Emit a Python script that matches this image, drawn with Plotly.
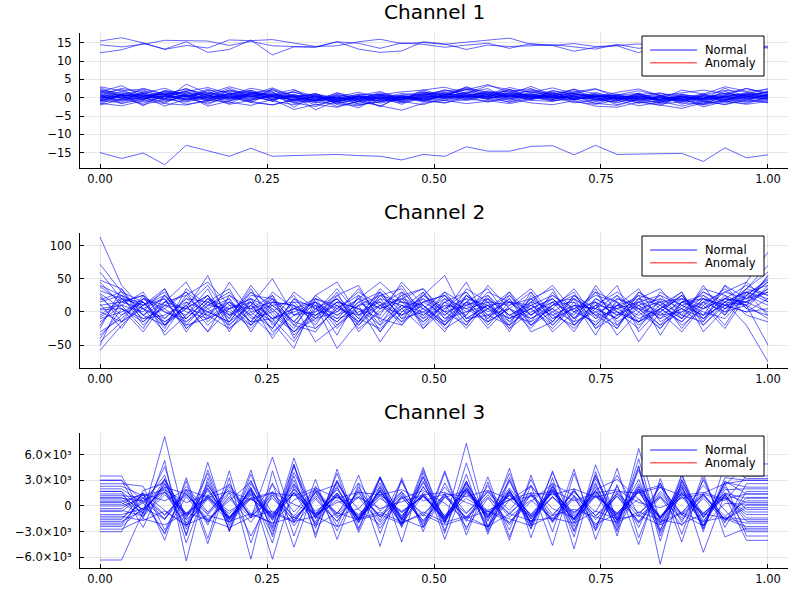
"""Per-channel overview of the sample series (normal vs anomaly)."""

import numpy as np
import plotly.graph_objects as go

# time grid shared by every sample
t = np.linspace(0.0, 1.0, 32)

# Channel 1: three offset-high samples, one offset-low, the rest around zero
ch1_high = [
    [15.5, 16.4, 15.0, 13.2, 14.3, 13.6, 15.8, 15.6, 15.9, 14.9, 14.0, 14.2, 15.3, 16.0, 14.8, 15.1,
     14.6, 15.2, 15.8, 16.3, 14.6, 14.3, 14.8, 14.0, 14.3, 14.7, 14.1, 14.6, 14.2, 14.0, 14.4, 13.8],
    [14.5, 13.9, 14.6, 15.7, 15.6, 15.5, 14.3, 15.4, 14.2, 13.9, 13.8, 15.3, 14.9, 13.5, 15.0, 14.6,
     13.8, 14.4, 14.9, 13.5, 14.8, 14.3, 12.7, 13.8, 14.2, 12.3, 14.9, 14.1, 13.9, 14.3, 13.8, 14.1],
    [12.3, 13.1, 14.9, 13.3, 15.3, 12.4, 13.2, 15.8, 11.7, 13.9, 13.9, 15.3, 13.3, 12.4, 12.8, 15.3,
     14.7, 13.2, 14.4, 14.0, 14.2, 14.5, 13.9, 13.3, 14.6, 13.5, 14.4, 13.3, 14.8, 14.6, 13.9, 13.6],
]
ch1_low = [
    [-15.0, -16.6, -15.1, -18.3, -13.0, -14.6, -16.0, -13.8, -16.0, -15.8, -15.6, -15.5, -15.8, -16.0, -17.0, -15.5,
     -16.0, -13.4, -14.6, -14.6, -13.3, -13.1, -15.6, -13.0, -15.5, -15.5, -15.3, -15.2, -17.4, -13.7, -16.4, -15.6],
]
ch1_core = [
    [2.8, 0.5, 1.5, -0.5, 3.7, 1.2, 0.8, 2.6, 1.5, -0.8, 0.3, -1.2, 0.5, -0.3, 1.2, 0.6,
     1.8, 2.5, 1.6, 1.0, 3.1, 0.8, 1.9, 0.4, 0.7, 1.2, -0.5, 2.1, 1.0, 3.0, 1.8, 2.2],
    [-1.8, 1.0, -0.5, 2.0, 0.8, -0.5, 2.2, 0.0, 2.3, 0.5, -3.3, -0.8, 0.6, -1.5, -0.2, 1.4,
     0.5, 2.9, 0.2, 2.3, 0.1, -0.9, 0.5, -1.6, 0.3, -0.8, -2.1, 0.4, -1.5, 0.2, 1.4, 0.6],
    [1.6, 3.3, 0.4, 1.2, -0.6, 2.1, 1.5, -0.8, 2.5, -1.5, -0.2, -2.4, -0.9, 0.3, -1.8, 0.4,
     2.2, 0.6, 1.3, 1.9, -0.2, 1.5, -0.6, 1.0, -0.3, 0.4, 0.8, -1.8, 0.3, -0.5, 0.9, 1.5],
    [0.4, -1.2, 1.8, 0.6, 2.6, -0.3, 0.9, 1.7, 0.2, 0.8, -1.5, 0.7, -1.8, -1.2, 0.5, -0.8,
     0.6, 1.4, 2.5, -0.4, 1.7, 0.3, 2.4, -0.8, -0.9, 1.3, -1.2, 0.6, -0.6, 1.8, -0.4, 0.8],
    [-0.6, 0.8, -2.2, 1.4, 0.2, 1.9, -0.7, 0.9, -1.0, 2.0, 0.4, -1.0, -2.8, 0.6, -0.7, 1.8,
     -0.3, 0.9, -0.5, 1.4, 0.6, -0.4, 0.9, 0.3, -1.9, -0.3, 0.6, -0.8, 1.2, -1.4, 0.4, -0.2],
    [1.1, -0.3, 0.9, -1.5, 1.3, 0.4, 2.6, 0.3, 1.7, -2.6, 0.9, -0.4, 0.4, -2.5, 0.8, -0.2,
     1.2, 0.2, 1.9, 0.6, 2.0, 1.2, -0.2, 0.6, 0.2, -1.5, 0.1, -0.4, -1.8, 0.6, 2.6, 1.0],
    [0.0, 1.8, 0.3, 0.8, -1.0, 1.2, 0.1, 2.1, -0.6, 0.6, -0.8, 1.4, -0.6, 0.8, -1.3, 1.0,
     0.1, 1.6, 0.8, 1.1, -0.6, 2.0, 0.6, -0.5, 0.8, -0.6, -1.3, 0.2, -0.4, 0.9, 0.0, -0.3],
    [-1.2, -0.4, 1.2, -0.9, 0.5, -1.8, 0.6, -0.4, 0.9, -0.2, 1.1, -1.8, 0.2, -0.8, 0.3, -1.2,
     0.9, -0.5, 1.1, -0.8, 0.9, -0.6, 1.3, -0.2, -1.4, 0.5, -0.9, -0.2, -2.0, -0.8, 1.2, 0.4],
    [0.8, 0.2, -0.7, 1.9, 1.1, 0.7, -1.0, 1.3, 0.4, -1.2, -0.6, 0.2, -1.2, 0.2, -0.9, 0.7,
     1.5, 0.3, 0.5, 2.2, 0.3, 0.9, -0.4, 1.5, -0.1, -1.0, 0.4, -1.2, 0.5, 0.1, -0.8, 1.1],
    [2.1, 1.2, 0.0, 0.3, 1.8, -1.0, 1.3, 0.6, -0.3, 0.3, -2.0, -0.6, 0.9, -0.4, 0.1, 0.2,
     0.3, 1.1, -0.2, 0.4, 1.2, 0.2, 0.3, -1.1, 0.5, -0.2, -0.4, -0.8, 0.1, -0.6, 0.6, -0.5],
    [-0.3, 0.9, 2.1, -0.2, 0.6, 0.9, -1.6, 1.0, 0.8, -0.7, 0.6, -0.9, -0.2, 1.1, -0.3, -0.5,
     0.8, 2.2, 0.0, 0.8, -0.2, 0.6, 1.1, 0.0, -0.7, 0.8, -0.6, 0.5, -1.1, 0.4, 0.2, 1.6],
    [0.6, -0.8, 0.6, 1.0, -0.5, 0.2, 0.8, -1.2, 1.1, 0.1, -0.4, 0.4, -1.0, -0.5, 0.6, -0.9,
     1.0, 0.5, 0.9, -0.1, 0.5, 0.7, -0.3, 0.8, -0.5, 0.9, -1.5, 0.0, -0.3, -0.9, 0.3, 0.2],
    [-0.9, 0.3, -0.4, 0.5, 0.1, 1.5, 0.4, 0.2, -0.8, 1.0, -0.9, 0.1, 0.3, -1.0, -0.5, 0.5,
     -0.6, 0.8, 1.4, 0.3, 1.0, -0.2, 0.8, 0.2, 1.0, -0.4, 0.2, -1.0, 0.7, -0.2, -1.1, 0.0],
    [1.4, 0.6, 0.8, -0.3, 0.9, 0.0, 0.5, 0.9, 0.1, -0.4, 0.2, -0.3, -0.7, 0.4, -0.4, 0.3,
     0.4, -0.1, 0.6, 0.9, 0.7, 0.1, 0.1, 0.5, -0.8, 0.2, -0.3, 0.3, -0.9, 0.5, 0.6, 0.3],
    [0.2, -0.6, 0.1, 0.4, -0.4, 0.6, -0.2, 0.5, 0.3, -0.6, -0.3, -0.5, 0.1, -0.2, 0.2, -0.3,
     0.2, 0.4, -0.1, 0.5, 0.1, 0.4, -0.1, 0.1, -0.3, -0.1, -0.7, 0.1, -0.4, 0.2, -0.2, 0.7],
    [-0.4, 1.4, 0.5, 1.6, 0.3, -0.8, 1.0, -0.2, 0.6, 0.4, -1.1, 0.8, -0.4, -0.1, -1.0, 0.0,
     0.7, -0.2, 0.3, 0.6, -0.4, 1.2, 0.4, -0.3, 0.3, -0.7, 0.5, -0.5, -0.2, 0.7, 1.0, 0.1],
    [0.9, -1.6, -0.3, 0.7, 1.5, 0.8, -0.5, 1.5, -0.5, 0.7, 0.0, -1.4, 0.5, 0.0, -0.6, 1.1,
     -0.2, 1.3, 0.2, -0.3, 0.4, -0.5, 0.7, 0.9, -0.4, 0.6, -0.8, 0.8, 0.3, -0.3, 0.1, -0.7],
    [-0.1, 0.4, 1.0, -0.6, -0.2, 0.3, 1.1, 0.4, 1.3, -1.0, 0.5, -0.2, -0.5, 0.6, 0.4, -0.6,
     0.4, 0.0, 1.6, 0.1, 0.8, 0.0, -0.5, 0.4, 0.1, 0.4, -0.1, -0.6, 0.6, -0.7, 0.8, 0.5],
    [0.5, 0.0, -1.0, 0.2, 0.7, -0.4, 0.2, -0.6, 0.5, 0.0, -0.7, 0.9, -0.3, -0.7, 0.0, 0.8,
     -0.1, 0.6, -0.3, 1.3, 0.2, 0.3, 0.2, -0.6, -0.1, -0.3, 0.3, -0.2, -0.6, 0.3, -0.5, 0.9],
    [1.9, 0.7, 0.2, 1.1, -0.7, 0.5, 0.0, 1.2, -0.1, 0.2, 0.7, -0.8, -0.1, 0.7, -0.2, 0.1,
     1.3, 0.2, 0.4, 0.6, 0.0, 1.6, -0.6, 0.3, 0.6, 0.1, -0.5, 0.4, -0.1, 1.2, 0.4, -0.1],
    [3.0, 1.9, 2.4, 0.9, 1.7, 2.8, 1.1, 2.0, 0.6, 1.5, 0.2, -0.3, 1.0, 0.8, 1.6, 2.1,
     2.9, 1.2, 3.3, 2.2, 1.5, 2.7, 1.2, 2.3, 0.8, 1.9, 0.6, 1.4, 2.1, 1.1, 2.5, 1.3],
    [-1.5, -2.2, -0.8, -1.6, -2.0, -0.6, -1.2, -2.1, -0.4, -3.2, -1.8, -2.6, -1.0, -2.2, -3.4, -1.5,
     -0.7, -1.6, -0.9, -0.3, -1.4, -1.9, -0.8, -2.3, -2.6, -1.2, -2.0, -2.9, -1.4, -0.9, -1.8, -1.0],
    [1.2, 2.3, -0.4, 1.8, 0.3, 2.4, -0.2, 1.3, 2.0, 0.1, 1.2, -1.0, 0.6, 1.7, -0.6, 2.2,
     0.4, 3.0, 1.2, 0.2, 2.4, -0.2, 1.6, 2.5, 0.0, 1.1, -0.5, 0.9, -0.4, 2.6, 0.3, 1.8],
    [-0.8, 0.6, -1.9, -0.4, -1.2, 0.2, -1.8, -0.6, 0.4, -1.4, -2.4, -0.3, -1.6, 0.3, -1.0, -1.9,
     0.1, -0.8, 0.5, -1.3, -0.2, 0.6, -1.1, -1.8, -0.6, -2.2, -1.3, -0.2, -2.5, -1.0, -1.6, 0.2],
    [2.4, 0.0, 1.2, 2.6, 0.5, -0.4, 1.8, 0.9, 2.7, 0.4, 1.0, 0.0, -0.4, 1.4, 0.2, 0.9,
     2.0, 1.0, 0.4, 1.7, 2.5, 0.5, 1.4, 0.2, 1.5, 2.4, 0.6, 1.0, -0.2, 1.3, 0.7, 1.6],
    [-2.0, -0.5, -1.5, 0.4, -1.8, -0.9, 0.3, -1.3, -1.9, -0.6, -1.2, -1.7, -2.2, -0.5, -1.4, -0.2,
     -0.8, 0.2, -1.2, 0.4, -0.7, -1.0, 0.3, -0.4, -1.2, -0.1, -1.7, -1.1, -0.8, -1.9, -0.6, -1.3],
    [0.3, 2.6, 1.4, -0.2, 2.1, 1.1, 3.0, 1.5, 0.9, 2.3, -0.9, 1.3, 0.2, 0.9, -0.1, 1.2,
     0.8, 2.1, 3.6, 1.4, 0.7, 1.9, 1.0, 0.5, -0.1, 0.9, 1.3, 0.2, 0.9, 0.2, 1.1, 2.5],
    [-0.5, -1.5, 0.4, -2.3, -0.3, -1.4, 0.0, -1.0, -2.0, -0.5, 0.4, -1.5, -0.6, -2.2, 0.2, -0.9,
     -1.3, -0.4, -0.8, -1.6, -0.5, 0.3, -1.4, -0.6, -0.2, -1.4, -0.9, -2.3, -1.0, -1.8, -0.2, -1.4],
    [1.7, -0.2, 2.6, 1.0, 2.4, 0.7, 2.0, 1.4, 0.5, 1.6, -0.4, 0.2, 1.5, -0.1, 0.7, 1.5,
     1.1, 2.4, 0.9, 2.8, 1.5, 1.0, 2.3, 1.1, 0.4, 0.1, 1.3, -0.6, 0.8, 2.0, 1.6, 0.8],
    [-1.0, 0.9, -0.2, -1.2, 0.7, -2.3, -0.9, 0.6, -0.9, -1.9, -0.7, -1.0, -2.0, -1.1, -0.1, -0.4,
     -1.5, 0.5, -0.3, -1.1, 0.3, -0.8, -0.4, -1.5, -2.1, -0.4, 0.2, -1.4, -1.8, -0.5, -1.2, -0.6],
]

# Channel 2: noisy samples, wide spread at both ends
ch2_samples = [
    [113, 40, 5, -10, 20, 15, -5, 30, 10, -15, 20, 5, 30, 10, -5, 15,
     25, 0, 10, -10, 5, 20, -15, 0, 10, -5, 15, 20, 5, 30, 45, 90],
    [72, 30, 15, -20, 10, -30, 5, 20, -10, 0, 15, -25, 10, 25, -5, 10,
     -20, 15, 5, -10, 20, 0, -25, 10, 5, -15, 0, 25, -5, 10, 15, 55],
    [60, 20, -5, 15, 25, 45, 10, -20, 5, -30, -10, 0, 20, 45, 15, -10,
     30, 10, -15, 5, -20, 10, 15, -10, 25, 0, -25, 10, 20, 5, 25, 48],
    [48, 35, -15, 10, 30, 5, 20, -30, 15, 10, -45, -20, 5, -10, 25, 35,
     -5, 20, 10, -25, 0, 15, -5, 35, -20, 10, -10, 5, 30, 15, -20, -75],
    [38, 15, 25, -35, -5, 25, -15, 10, 50, -5, 10, -55, -15, 30, 0, 25,
     55, -10, -5, 20, -30, -15, 25, 5, -10, 20, 35, -5, -15, 40, 20, 30],
    [32, 20, 10, 25, 0, -10, 45, 0, -25, 20, 5, -15, 15, -5, 45, 10,
     -25, -5, 30, 15, 10, -5, -20, 5, 40, -30, 5, 20, -10, 15, 30, 15],
    [28, 5, -10, -5, 15, -20, 10, 5, 25, -20, -30, 10, -20, 20, 10, -5,
     15, -20, 20, -5, 15, 40, 0, -15, 10, 5, -20, 15, 25, 0, 10, -50],
    [22, -5, 20, 0, -15, 10, 30, -10, 0, 25, -25, 5, -5, 30, -10, 20,
     0, 45, -15, 5, -10, 10, 30, -25, -5, 15, 0, -30, 10, 35, 5, 40],
    [15, 25, -20, 10, 5, 55, -20, 15, -10, 5, 15, -35, 25, 5, 20, -15,
     10, 5, 15, -30, 25, -10, 5, 15, -35, 0, 25, 10, -5, 20, 40, 25],
    [10, 15, 5, -30, 15, 0, -15, 25, 20, -5, 0, 20, -10, -25, 5, 30,
     -10, 15, -25, 10, 35, -5, 10, -20, 15, -10, 5, -15, 20, 10, 0, 5],
    [5, 10, -25, 25, -10, 20, 5, -25, 10, 15, -20, 25, 40, -15, 10, 0,
     20, -15, 5, 25, -15, 5, -30, 20, 5, 25, -35, 15, 0, -10, 25, 10],
    [0, -15, 10, 20, -25, 5, -20, 10, -15, 30, 5, -10, 0, 15, -20, 25,
     5, 30, -5, -20, 10, 25, 0, 30, -15, 5, 15, -5, 35, 25, -5, -15],
    [-5, 20, -10, 5, 30, -15, 15, -5, -35, 10, -15, 15, -25, 0, 25, -20,
     15, -5, 40, 5, -25, 15, 20, -5, 0, -25, 20, 5, -20, 15, 10, 35],
    [-10, 0, 15, -15, 5, 25, -30, 20, 5, -25, 25, 45, -5, 10, -15, 5,
     -30, 25, 0, 15, 5, -25, 10, 5, -10, 30, 5, -15, 15, -20, 30, 20],
    [-15, 10, 0, 35, -20, -10, 15, -15, 25, -40, 10, -5, 20, -20, 5, 20,
     -10, 0, 20, -5, -15, 30, -10, 20, 0, -15, 10, 30, -30, 5, 15, 0],
    [-20, 25, 5, -15, 10, -30, 25, 5, -15, -55, 20, 10, -15, 25, 35, -10,
     10, -25, 15, 10, 20, -20, 15, -35, 20, 10, -20, 0, 15, 30, 20, 45],
    [-30, -10, 20, 5, -20, 15, 0, -20, 15, 10, -10, 30, -30, 5, 15, 10,
     -15, 15, -10, 30, -5, 15, -20, 10, -25, 20, 10, -10, 40, -5, 35, 25],
    [-40, 5, -30, 15, 5, -5, -25, 0, 10, -20, 15, -5, 10, -45, 0, 15,
     25, -15, 5, -20, 30, -10, 5, 25, 15, -45, 0, 25, -15, 20, 10, -10],
    [-50, 20, 15, -25, 35, 10, 5, 15, -10, 5, -5, 20, -15, 10, 30, -25,
     5, 20, -20, 15, -10, 5, 35, -10, 5, 15, -10, 20, 10, -25, 25, 50],
    [-58, -20, 10, 30, -10, 20, -10, 35, -20, 15, 10, -15, 15, 30, -10, 0,
     -20, 10, 25, -15, 15, -30, 0, 15, -5, 25, 15, -20, 5, 20, 15, 30],
    [45, 10, 30, -20, 5, 25, -10, 40, 0, -30, 5, 25, -10, 35, 5, -25,
     15, 30, -10, 20, -20, 10, 25, -5, -25, 30, 10, -10, 25, 5, 35, 60],
    [26, -15, 5, 20, -30, 10, 25, -5, 20, -35, -5, 15, 5, -20, 30, 5,
     -15, 35, 15, -20, 5, 20, -10, 30, 15, -20, 5, 25, -10, 15, 30, 40],
    [18, 30, -5, -20, 25, -5, 20, -15, -10, -45, 5, 20, -20, 10, 20, 35,
     0, -20, 25, -5, 10, -15, 25, -5, 20, 5, -25, 15, 20, -5, 45, 15],
    [12, -25, 20, 10, -5, 35, -25, 5, 15, -15, 25, 0, 35, -10, -20, 15,
     -5, 25, 5, 30, -20, 0, 20, -25, 10, 35, -15, 5, -10, 25, 10, 55],
    [3, 5, -15, 15, 45, -10, 5, 20, -30, -5, 15, -10, 20, 5, 40, -5,
     25, -10, 10, -15, 20, 35, -20, 15, -5, 10, 20, -25, 15, 0, 30, -5],
    [-8, 15, 25, -10, 20, 0, -15, 30, -5, -30, 0, 35, -5, 20, -15, 30,
     -20, 15, 35, -10, 5, -20, 10, 5, 25, -15, 5, 30, -20, 10, 0, 20],
    [-25, 35, -5, 25, -15, 15, 35, -20, 20, -15, -25, 5, 25, -30, 10, -15,
     20, 5, -15, 25, -5, 20, -10, 10, 30, 5, -5, 15, 5, 20, 15, 35],
    [-35, -5, 15, -20, 10, 40, -5, 15, -40, 5, 20, -20, 10, 15, -5, 25,
     0, 10, 20, -25, 15, 5, -15, 40, 0, -15, 30, 10, -5, 40, 5, -5],
    [40, 25, 10, 35, -25, 0, 15, -15, 30, 5, -5, 10, -15, 25, 15, 5,
     30, -10, 10, 15, -5, 25, 5, -20, 10, 20, -5, 0, 30, 10, 35, 70],
    [-45, -15, 25, 0, -10, 20, -5, 10, -25, 20, -10, 15, 5, -30, 20, 10,
     -20, 25, -5, 5, 30, -15, 20, 0, -20, 15, 25, -10, 20, 10, 20, 45],
]

# Channel 3: zig-zag samples, flat first and last step
ch3_samples = [
    [3500, 3500, -900, 8100, -2400, 2800, -1900, 2200, -2600, 5600, -1500, 2300, -2800, 3400, -1700, 2900,
     -2100, 7300, -2500, 1800, -2200, 3900, -1600, 2700, -3000, 6700, -1900, 3000, -1400, 2400, 4900, 4900],
    [3000, 3000, -1500, 5300, -6400, 3300, -2800, 4200, -3600, 4900, -2600, 3800, -3100, 2400, -2200, 4500,
     -2900, 3700, -3300, 3000, -2700, 4100, -2900, 3600, -2500, 5500, -3500, 2800, -2600, 3300, 3000, 3000],
    [2000, 2000, 300, 3600, -4300, 2400, -1300, 1800, -4300, 4600, -1100, 1500, -1900, 1900, -2400, 2300,
     -1500, 2600, -3000, 1600, -1900, 2700, -3600, 4800, -1700, 4200, -2800, 2200, -2300, 1900, 2000, 2000],
    [1700, 1700, -2500, 3100, -3300, 4200, -2300, 3000, -2900, 3500, -3300, 2900, -2000, 3200, -1400, 3400,
     -3900, 2900, -1800, 3800, -2300, 2200, -3000, 2500, -2200, 4700, -6800, 3100, -2700, 2900, 1400, 1400],
    [1400, 1400, -1000, 1600, -2200, 800, -1900, 1400, -1300, 1600, -1000, 2100, -1500, 1200, -2000, 1200,
     -1500, 2700, -1300, 1500, -1900, 1900, -1200, 1200, -2000, 2000, -1400, 2400, -900, 1500, 900, 900],
    [1000, 1000, -400, 2000, -2700, 2000, -1600, 1300, -3300, 3900, -900, 1900, -1400, 2700, -1900, 1600,
     -1700, 2100, -1300, 2900, -1500, 1700, -2400, 3200, -1800, 2600, -2000, 2500, -5400, 1400, 400, 400],
    [700, 700, -800, 2600, -1200, 1800, -1600, 1700, -1100, 1900, -1400, 1500, -1300, 1700, -1600, 2200,
     -1200, 2000, -1600, 1300, -1500, 1600, -1000, 1800, -1700, 2300, -1300, 1100, -1900, 2200, -400, -400],
    [400, 400, -1200, 1300, -900, 1000, -1300, 1000, -1500, 1500, -1200, 1300, -1500, 900, -700, 1100,
     -1400, 1400, -1000, 800, -1200, 1100, -1600, 1100, -800, 1700, -2200, 1700, -1200, 1000, -700, -700],
    [0, 0, 900, 3000, -1000, 1100, -900, 1500, -1400, 2000, -600, 1100, -1000, 1600, -800, 1200,
     -1100, 1800, -900, 1300, -1000, 1500, -700, 1200, -900, 2000, -1200, 1400, -800, 1000, -1000, -1000],
    [-1000, -1000, -300, 1700, -1100, 2100, -1900, 900, -1100, 2600, -1300, 1500, -1800, 2100, -1500, 2700,
     -1300, 2000, -1100, 1800, -1800, 1100, -1500, 1700, -1600, 2300, -1500, 2100, -1300, 1300, -1400, -1400],
    [-1800, -1800, -500, 2200, -1600, 900, -1500, 2000, -1700, 2500, -1000, 1100, -1400, 1400, -1100, 1300,
     -1700, 1600, -1200, 1600, -1000, 2000, -1600, 1700, -1300, 1800, -1500, 1600, -1100, 1300, -1800, -1800],
    [-3000, -3000, 1800, 2700, -2000, 2500, -1500, 2100, -6200, 2300, -1900, 3000, -1700, 1800, -2100, 3400,
     -1800, 2300, -2400, 1900, -2600, 2300, -1600, 2200, -2800, 2000, -3100, 1500, -2300, 2700, -3500, -3500],
    [-6300, -6300, -700, 2500, -1200, 1000, -1400, 1900, -1600, 1500, -2100, 1300, -1500, 1800, -1200, 1400,
     -1900, 1700, -1400, 2100, -1200, 1800, -1900, 1300, -1100, 1600, -1400, 1900, -1700, 1200, -4000, -4000],
    [2600, 2600, 2300, -2800, 1900, -2200, 2600, -1400, 5700, -2000, 1700, -2900, 2200, -1700, 3000, -2400,
     2700, -1800, 2400, -2800, 3100, -1900, 2000, -2600, 2300, -2500, 2700, -1900, 3000, -2000, 2600, 2600],
    [1200, 1200, 1000, -1100, 1600, -1900, 1100, -1400, 1300, -1700, 1500, -1000, 1000, -1900, 1200, -900,
     1300, -1400, 1000, -800, 1300, -1900, 900, -2300, 1700, -1300, 1100, -1600, 900, -1800, 1000, 1000],
    [-300, -300, 1300, -1000, 1400, -1700, 900, -1900, 1500, -1200, 1800, -1400, 1200, -1100, 1600, -2100,
     1100, -1500, 1300, -2000, 1400, -1200, 1800, -1600, 1200, -1800, 1700, -1000, 1400, -1600, 100, 100],
    [-650, -650, 1300, -1600, 1900, -900, 2200, -1200, 1700, -1400, 1000, -1800, 1900, -1300, 1400, -1700,
     1100, -1300, 1700, -1000, 1600, -1700, 1800, -1200, 1100, -2000, 1400, -1100, 1300, -1600, -200, -200],
    [-1400, -1400, 400, -3100, 1100, -1900, 1500, -3500, 1300, -2300, 800, -1800, 1700, -2600, 1100, -1900,
     1500, -2500, 900, -2200, 1300, -1700, 1100, -2900, 1500, -1900, 1000, -2300, 1200, -1500, -2400, -2400],
    [-2400, -2400, -200, -1500, 2300, -700, 1900, -1100, 2500, -700, 2000, -900, 2700, -600, 1700, -1200,
     2200, -800, 1800, -500, 2400, -1000, 1600, -700, 3600, -1100, 2200, -900, 2400, -500, -3000, -3000],
    [500, 500, 1400, 600, 1900, 1000, 1700, 700, 1500, 1200, 2100, 900, 1600, 1300, 1900, 600,
     1400, 1100, 1800, 800, 1500, 1300, 2000, 1000, 1700, 1500, 2200, 1200, 1600, 800, 1400, 1400],
    [-1200, -1200, -1700, -600, -2200, -1100, -1800, -900, -2000, -1300, -2300, -800, -1600, -1000, -2100, -700,
     -1900, -1200, -2400, -900, -1700, -1400, -2000, -600, -1500, -1100, -2200, -800, -1800, -1300, -1600, -1600],
    [200, 200, 1500, -4000, 3300, -3800, 4100, -4300, 2700, -4800, 2300, -2400, 3600, -3200, 2900, -2500,
     4100, -2800, 3400, -3600, 2400, -4600, 3800, -2800, 4400, -3700, 2700, -4200, 3300, -2500, 1700, 1700],
    [-500, -500, -1200, 3200, -1500, 3800, -2900, 2600, -1300, 3000, -2200, 2800, -1600, 3400, -2500, 4200,
     -1800, 2900, -2800, 3300, -2100, 2400, -2000, 3500, -1400, 3100, -2900, 3700, -2300, 2800, 2200, 2200],
    [900, 900, 600, -1500, 1300, -1000, 1600, -1200, 900, -1600, 1200, -800, 1500, -1300, 1000, -1700,
     1300, -900, 1600, -1300, 700, -1500, 1200, -1100, 1400, -800, 1100, -1400, 1300, -1200, 600, 600],
    [-2000, -2000, 700, 1600, -800, 1200, -1300, 800, -900, 1500, -1200, 700, -1100, 1300, -600, 1100,
     -1400, 900, -700, 1200, -1300, 1000, -800, 1400, -1000, 800, -1300, 1100, -900, 1500, -2800, -2800],
    [2300, 2300, 1200, 1900, 400, 1300, -600, 900, 1600, 200, -900, 400, 1000, -300, 500, 1300,
     1600, 400, -500, 700, 1100, 1800, 600, 1500, 1900, 400, -200, 900, 1400, 600, 3500, 3500],
    [-2700, -2700, -1500, -2200, -800, -1600, -2500, -1300, -600, -1800, -1200, -2400, -1500, -700, -1900, -1000,
     -2200, -1400, -600, -1500, -2300, -1100, -400, -1300, -1900, -700, -1600, -2100, -900, -1400, -2000, -2000],
    [1700, 1700, -500, 4600, -3500, 5100, -3000, 3700, -2400, 4800, -3700, 4300, -2600, 3300, -4200, 3900,
     -3200, 5000, -2500, 4400, -3700, 3300, -5000, 4000, -3500, 4600, -4100, 3600, -3000, 4800, 3200, 3200],
    [-2200, -2200, 1000, -3300, 2900, -4400, 3300, -6200, 4100, -3500, 3100, -3900, 2600, -4700, 3300, -3000,
     3900, -3400, 2800, -4000, 3600, -3000, 4300, -3900, 2500, -4500, 3200, -3300, 3800, -3600, -2600, -2600],
    [3000, 3000, 500, 2200, 1400, -1500, 600, 2800, -800, -1900, 1600, 2500, -400, -2200, 900, 1800,
     300, -1600, -2400, 700, 2300, -300, -1400, 1900, 3100, 800, -1900, -700, 1500, 2600, 3000, 3000],
    [-1600, -1600, 1500, -500, -2300, 1200, 2400, -900, -2000, 700, 1900, -1200, -300, 2200, -1500, -2500,
     1000, 1800, -600, -1900, 500, 2600, 1200, -2100, -900, 1700, 2400, -1000, -2300, 300, 200, 200],
]

channel_titles = ["Channel 1", "Channel 2", "Channel 3"]
legend_labels = ["Normal", "Anomaly"]
x_tickvals = [0.0, 0.25, 0.5, 0.75, 1.0]
x_ticktext = ["0.00", "0.25", "0.50", "0.75", "1.00"]
y_tickvals = [
    [-15, -10, -5, 0, 5, 10, 15],
    [-50, 0, 50, 100],
    [-6000, -3000, 0, 3000, 6000],
]
y_ticktext = [
    ["\u221215", "\u221210", "\u22125", "0", "5", "10", "15"],
    ["\u221250", "0", "50", "100"],
    ["\u22126.0\u00d710\u00b3", "\u22123.0\u00d710\u00b3", "0", "3.0\u00d710\u00b3", "6.0\u00d710\u00b3"],
]
y_ranges = [[-19.2, 17.7], [-84.5, 119], [-7230, 8510]]

NORMAL_COLOR = "rgba(0,0,255,0.6)"
ANOMALY_COLOR = "rgba(255,0,0,0.6)"
FONT = "DejaVu Sans"
W, H = 800, 600

# plot areas in pixels (top, bottom) on the 800x600 canvas
panel_px = [(33, 168), (233, 368), (433, 568)]
title_px = [12, 212, 412]


def panel_series(idx: int) -> list[list[float]]:
    """Return all normal samples of one channel."""
    if idx == 0:
        return ch1_high + ch1_core + ch1_low
    if idx == 1:
        return ch2_samples
    return ch3_samples


def px(x: float, y: float) -> tuple[float, float]:
    """Pixel position to paper coordinates."""
    return x / W, 1 - y / H


def legend_box(top: float) -> tuple[list[dict], list[dict]]:
    """Boxed legend (Normal / Anomaly) in the panel's upper-right corner."""
    x0, y0 = px(642, top + 3)
    x1, y1 = px(764, top + 43)
    shapes = [dict(type="rect", xref="paper", yref="paper", x0=x0, y0=y0, x1=x1, y1=y1,
                   line=dict(color="black", width=1), fillcolor="white", layer="above")]
    texts = []
    for k, (label, color) in enumerate(zip(legend_labels, [NORMAL_COLOR, ANOMALY_COLOR])):
        row_y = top + 17 + 12.7 * k
        lx0, ly = px(650, row_y)
        lx1, _ = px(697, row_y)
        shapes.append(dict(type="line", xref="paper", yref="paper", x0=lx0, x1=lx1, y0=ly, y1=ly,
                           line=dict(color=color, width=1.5), layer="above"))
        tx, ty = px(703, row_y)
        texts.append(dict(text=label, x=tx, y=ty, xref="paper", yref="paper",
                          xanchor="left", yanchor="middle", showarrow=False,
                          font=dict(family=FONT, size=11.5, color="black")))
    return shapes, texts


fig = go.Figure()
layout = {}
annotations = []
shapes = []

for i in range(3):
    suffix = "" if i == 0 else str(i + 1)
    xref, yref = "x" + suffix, "y" + suffix

    for series in panel_series(i):
        fig.add_trace(go.Scatter(
            x=t, y=series, mode="lines",
            line=dict(color=NORMAL_COLOR, width=1),
            name="Normal", showlegend=False,
            xaxis=xref, yaxis=yref, hoverinfo="skip",
        ))

    top, bottom = panel_px[i]
    axis_style = dict(
        showline=True, linecolor="black", linewidth=1,
        ticks="inside", ticklen=4, tickcolor="black",
        showgrid=True, gridcolor="rgba(0,0,0,0.1)", gridwidth=1,
        zeroline=False, tickfont=dict(family=FONT, size=11.5, color="black"),
    )
    layout["xaxis" + suffix] = dict(
        axis_style, domain=[80 / W, 788 / W], range=[-0.03, 1.03],
        tickvals=x_tickvals, ticktext=x_ticktext, anchor=yref,
    )
    layout["yaxis" + suffix] = dict(
        axis_style, domain=[1 - bottom / H, 1 - top / H], range=y_ranges[i],
        tickvals=y_tickvals[i], ticktext=y_ticktext[i], anchor=xref,
        ticklabelstandoff=5,
    )

    box_shapes, box_texts = legend_box(top)
    shapes += box_shapes
    annotations += box_texts
    tx, ty = px(434, title_px[i])
    annotations.append(dict(
        text=channel_titles[i], x=tx, y=ty,
        xref="paper", yref="paper", xanchor="center", yanchor="middle",
        showarrow=False, font=dict(family=FONT, size=20, color="black"),
    ))

fig.update_layout(
    width=W, height=H,
    margin=dict(l=0, r=0, t=0, b=0),
    paper_bgcolor="white", plot_bgcolor="white",
    font=dict(family=FONT),
    showlegend=False,
    annotations=annotations,
    shapes=shapes,
    **layout,
)

fig.write_html(
    "out.html",
    config={"displayModeBar": False},
    post_script="document.body.style.margin = '0px';",
)
